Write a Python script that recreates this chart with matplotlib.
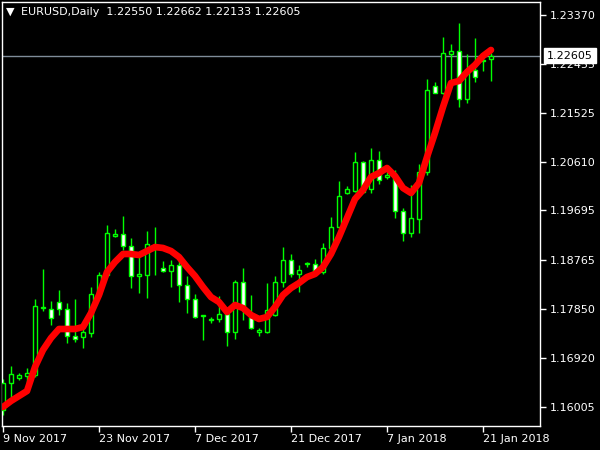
import matplotlib
matplotlib.use("Agg")
import matplotlib.pyplot as plt
import matplotlib.transforms as mtransforms
import numpy as np

# EURUSD daily bars, 9 Nov 2017 .. 23 Jan 2018
opens = [1.15942, 1.16450, 1.16544, 1.16582, 1.16601, 1.17860, 1.17842, 1.17973, 1.17842, 1.17334,
         1.17315, 1.17390, 1.18124, 1.18481, 1.19214, 1.19252, 1.19026, 1.18462, 1.18481, 1.18989,
         1.18613, 1.18556, 1.18669, 1.18293, 1.18030, 1.17710, 1.17635, 1.17654, 1.17748, 1.17409,
         1.18349, 1.17691, 1.17409, 1.17409, 1.17729, 1.18349, 1.18763, 1.18500, 1.18688, 1.18688,
         1.18537, 1.18989, 1.19384, 1.20023, 1.20060, 1.20606, 1.20098, 1.20643, 1.20324, 1.20343,
         1.19684, 1.19271, 1.19534, 1.20418, 1.22035, 1.21903, 1.22637, 1.22693, 1.21790, 1.22336,
         1.22524, 1.22550]
highs = [1.16525, 1.16770, 1.16638, 1.16732, 1.18030, 1.18594, 1.17992, 1.18199, 1.17954, 1.18030,
         1.17484, 1.18255, 1.18537, 1.19421, 1.19346, 1.19590, 1.19177, 1.18895, 1.19308, 1.19384,
         1.18744, 1.18763, 1.18744, 1.18462, 1.18124, 1.17729, 1.17691, 1.18086, 1.17804, 1.18387,
         1.18613, 1.18105, 1.17484, 1.18330, 1.18462, 1.19007, 1.18876, 1.18669, 1.18725, 1.18782,
         1.19083, 1.19572, 1.20249, 1.20155, 1.20794, 1.20625, 1.20869, 1.20813, 1.20418, 1.20455,
         1.19741, 1.20173, 1.20568, 1.22167, 1.22110, 1.22956, 1.22825, 1.23220, 1.22637, 1.22937,
         1.22618, 1.22662]
lows = [1.15848, 1.16187, 1.16507, 1.16413, 1.16563, 1.17804, 1.17541, 1.17729, 1.17202, 1.17221,
        1.17108, 1.17315, 1.18086, 1.18443, 1.19196, 1.18951, 1.18236, 1.18142, 1.18048, 1.18481,
        1.18537, 1.18255, 1.17973, 1.17766, 1.17672, 1.17259, 1.17578, 1.17597, 1.17146, 1.17277,
        1.17635, 1.17466, 1.17334, 1.17390, 1.17710, 1.18255, 1.18443, 1.18161, 1.18631, 1.18518,
        1.18500, 1.18970, 1.19365, 1.20004, 1.20042, 1.20030, 1.20023, 1.20192, 1.20286, 1.19553,
        1.19120, 1.19196, 1.19271, 1.20361, 1.21903, 1.21884, 1.22054, 1.21640, 1.21715, 1.22110,
        1.22317, 1.22133]
closes = [1.16450, 1.16619, 1.16601, 1.16638, 1.17898, 1.17879, 1.17672, 1.17842, 1.17334, 1.17277,
          1.17409, 1.18124, 1.18481, 1.19271, 1.19252, 1.19026, 1.18462, 1.18500, 1.19064, 1.19026,
          1.18556, 1.18669, 1.18293, 1.18030, 1.17691, 1.17722, 1.17654, 1.17748, 1.17409, 1.18349,
          1.17898, 1.17484, 1.17447, 1.17823, 1.18349, 1.18763, 1.18500, 1.18575, 1.18707, 1.18537,
          1.18989, 1.19384, 1.19966, 1.20098, 1.20606, 1.20042, 1.20643, 1.20267, 1.20361, 1.19684,
          1.19271, 1.19553, 1.20418, 1.21960, 1.21903, 1.22655, 1.22693, 1.21790, 1.22336, 1.22204,
          1.22505, 1.22605]
# red moving average line
ma = [1.15999, 1.16112, 1.16206, 1.16300, 1.16751, 1.17071, 1.17296, 1.17466, 1.17466, 1.17466,
      1.17503, 1.17766, 1.18105, 1.18537, 1.18725, 1.18876, 1.18876, 1.18857, 1.18932, 1.19007,
      1.18989, 1.18932, 1.18819, 1.18631, 1.18462, 1.18255, 1.18067, 1.17973, 1.17785, 1.17917,
      1.17860, 1.17729, 1.17654, 1.17691, 1.17879, 1.18105, 1.18236, 1.18330, 1.18443, 1.18500,
      1.18631, 1.18876, 1.19196, 1.19553, 1.19910, 1.20079, 1.20324, 1.20399, 1.20493, 1.20343,
      1.20117, 1.20023, 1.20211, 1.20700, 1.21151, 1.21640, 1.22091, 1.22129, 1.22298, 1.22430,
      1.22599, 1.22712]

price_ticks = [1.16005, 1.16920, 1.17850, 1.18765, 1.19695, 1.20610, 1.21525, 1.22455, 1.23370]
date_pos = [0, 12, 24, 36, 48, 60]
date_labels = ["9 Nov 2017", "23 Nov 2017", "7 Dec 2017", "21 Dec 2017", "7 Jan 2018", "21 Jan 2018"]
last_price = 1.22605
title = "EURUSD,Daily  1.22550 1.22662 1.22133 1.22605"

lime = "#00ff00"

fig = plt.figure(figsize=(6, 4.5), dpi=100, facecolor="black")
ax = fig.add_axes([2 / 600, 24 / 450, 538 / 600, 424 / 450])
ax.set_facecolor("black")

x = np.arange(len(opens))
o = np.array(opens)
c = np.array(closes)

# current price line
ax.axhline(last_price, color="#7f8c99", lw=1, zorder=1)

# wicks then bodies
ax.vlines(x, lows, highs, color=lime, lw=1, zorder=2)
bull = c >= o
body_lo = np.minimum(o, c)
body_h = np.abs(c - o)
ax.bar(x[bull], body_h[bull], bottom=body_lo[bull], width=0.6,
       facecolor="black", edgecolor=lime, lw=1, zorder=3)
ax.bar(x[~bull], body_h[~bull], bottom=body_lo[~bull], width=0.6,
       facecolor="white", edgecolor=lime, lw=1, zorder=3)

# moving average
ax.plot(x, ma, color="red", lw=4.8, solid_capstyle="round", zorder=4)

ax.set_xlim(-0.125, 67.125)
ax.set_ylim(1.15642, 1.23614)

for s in ax.spines.values():
    s.set_color("white")
    s.set_linewidth(1)

ax.yaxis.tick_right()
ax.set_yticks(price_ticks)
ax.set_yticklabels([f"{p:.5f}" for p in price_ticks])
ax.tick_params(axis="y", colors="white", labelcolor="white", length=4, width=1,
               labelsize=8, pad=3)

ax.set_xticks(date_pos)
ax.set_xticklabels(date_labels, ha="left")
ax.tick_params(axis="x", colors="white", labelcolor="white", length=4, width=1,
               labelsize=8, pad=2)

# current price box on the price scale
trans = mtransforms.blended_transform_factory(ax.transAxes, ax.transData)
ax.text(1.013, last_price, f"{last_price:.5f}", transform=trans, ha="left", va="center",
        color="black", fontsize=8, zorder=10, clip_on=False,
        bbox=dict(facecolor="white", edgecolor="white", boxstyle="square,pad=0.25"))

# header
fig.text(6 / 600, 1 - 12 / 450, "\u25bc", color="white", fontsize=8, va="center", ha="left")
fig.text(21 / 600, 1 - 12 / 450, title, color="white", fontsize=8, va="center", ha="left")

fig.savefig("out.png", dpi=100, facecolor="black")
